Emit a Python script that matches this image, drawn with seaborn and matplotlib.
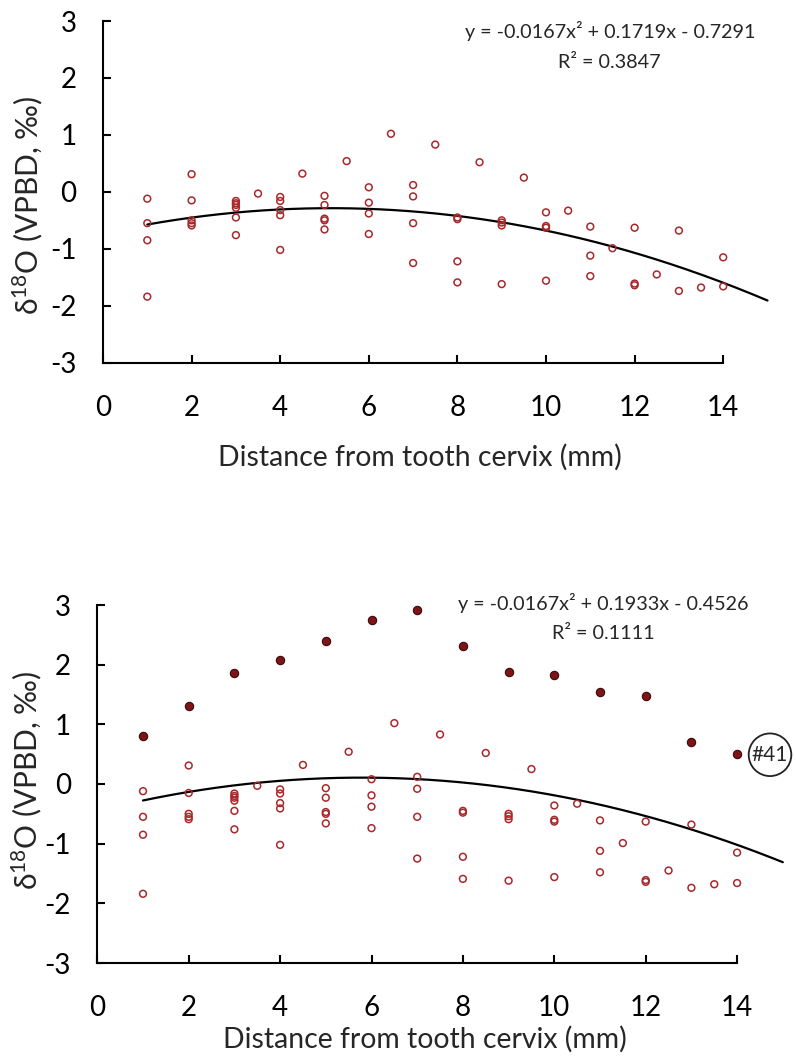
import numpy as np
import pandas as pd
import matplotlib
matplotlib.use("Agg")
import matplotlib.pyplot as plt
import seaborn as sns

# ---------------- data ----------------
dist_open = [1, 1, 1, 1,
             2, 2, 2, 2, 2,
             3, 3, 3, 3, 3, 3,
             3.5,
             4, 4, 4, 4, 4,
             4.5,
             5, 5, 5, 5, 5,
             5.5,
             6, 6, 6, 6,
             6.5,
             7, 7, 7, 7,
             7.5,
             8, 8, 8, 8,
             8.5,
             9, 9, 9, 9,
             9.5,
             10, 10, 10, 10,
             10.5,
             11, 11, 11,
             11.5,
             12, 12, 12,
             12.5,
             13, 13,
             13.5,
             14, 14]
d18o_open = [-0.12, -0.55, -0.85, -1.84,
             0.31, -0.15, -0.50, -0.55, -0.59,
             -0.16, -0.20, -0.23, -0.28, -0.45, -0.76,
             -0.03,
             -0.09, -0.16, -0.32, -0.41, -1.02,
             0.32,
             -0.07, -0.23, -0.47, -0.50, -0.66,
             0.54,
             0.08, -0.19, -0.38, -0.74,
             1.02,
             0.12, -0.08, -0.55, -1.25,
             0.83,
             -0.45, -0.48, -1.22, -1.59,
             0.52,
             -0.50, -0.54, -0.59, -1.62,
             0.25,
             -0.36, -0.60, -0.63, -1.56,
             -0.33,
             -0.61, -1.12, -1.48,
             -0.99,
             -0.63, -1.61, -1.64,
             -1.45,
             -0.68, -1.74,
             -1.68,
             -1.15, -1.66]
dist_41 = [1, 2, 3, 4, 5, 6, 7, 8, 9, 10, 11, 12, 13, 14]
d18o_41 = [0.81, 1.30, 1.86, 2.07, 2.39, 2.75, 2.91, 2.32, 1.87, 1.83, 1.54, 1.48, 0.71, 0.51]
label_41 = "#41"

fit_top = [-0.0167, 0.1719, -0.7291]
r2_top = 0.3847
fit_bottom = [-0.0167, 0.1933, -0.4526]
r2_bottom = 0.1111
fit_range = [1, 15]

x_ticks = [0, 2, 4, 6, 8, 10, 12, 14]
y_ticks = [-3, -2, -1, 0, 1, 2, 3]
x_label = "Distance from tooth cervix (mm)"
y_label = "δ$^{18}$O (VPBD, ‰)"

# ---------------- style ----------------
sns.set_theme(style="ticks")
plt.rcParams["font.family"] = ["Lato", "DejaVu Sans"]
plt.rcParams["mathtext.fontset"] = "custom"
plt.rcParams["mathtext.rm"] = "Lato"
plt.rcParams["mathtext.it"] = "Lato:italic"
plt.rcParams["mathtext.bf"] = "Lato:bold"
plt.rcParams["axes.unicode_minus"] = False

RED = "#A8282B"
DARK_FILL = "#7F1416"

W, H = 796, 1059
fig = plt.figure(figsize=(W / 100, H / 100), dpi=100)
fig.patch.set_facecolor("white")

# top panel: x=0 at 103px, 44.3 px/unit; y 3..-3 at 21..363 px
ax1 = fig.add_axes([103 / W, (H - 362.7) / H, 15.5 * 44.3 / W, 341.7 / H])
# bottom panel: x=0 at 97.3px, 45.7 px/unit; y 3..-3 at 605..963 px
ax2 = fig.add_axes([97.3 / W, (H - 963) / H, 15.5 * 45.7 / W, 358 / H])


def fmt_eq(c):
    a, b, k = c
    sign = "-" if k < 0 else "+"
    return f"y = {a:.4f}x² + {b:.4f}x {sign} {abs(k):.4f}"


def panel(ax, fit, r2, eq_x, eq_y1, eq_y2, xl_frac, xl_y, yl_x, yl_y):
    df_open = pd.DataFrame({"dist": dist_open, "d18o": d18o_open})
    sns.scatterplot(data=df_open, x="dist", y="d18o", ax=ax, marker="o",
                    s=24, facecolors="none", edgecolor=RED, linewidth=1.1,
                    zorder=3, legend=False)
    xs = np.linspace(fit_range[0], fit_range[1], 300)
    df_fit = pd.DataFrame({"x": xs, "y": np.polyval(fit, xs)})
    sns.lineplot(data=df_fit, x="x", y="y", ax=ax, color="black",
                 linewidth=1.6, zorder=2, legend=False)
    ax.set_xlim(0, 15.5)
    ax.set_ylim(-3, 3)
    ax.set_xticks(x_ticks)
    ax.set_yticks(y_ticks)
    ax.set_xticklabels([str(t) for t in x_ticks])
    ax.set_yticklabels([str(t) for t in y_ticks])
    for s in ["top", "right"]:
        ax.spines[s].set_visible(False)
    for s in ["left", "bottom"]:
        ax.spines[s].set_linewidth(1.5)
        ax.spines[s].set_color("black")
    ax.spines["bottom"].set_bounds(0, 14)
    ax.tick_params(axis="both", direction="in", length=6, width=1.5,
                   colors="black", labelsize=20)
    ax.tick_params(axis="x", pad=23)
    ax.tick_params(axis="y", pad=19)
    ax.set_facecolor("none")
    ax.set_xlabel(x_label, fontsize=20.4)
    ax.set_ylabel(y_label, fontsize=21.5)
    ax.xaxis.set_label_coords(xl_frac, xl_y)
    ax.yaxis.set_label_coords(yl_x, yl_y)
    ax.yaxis.label.set_va("center")
    ax.text(eq_x, eq_y1, fmt_eq(fit), ha="center", va="baseline", fontsize=14.2)
    ax.text(eq_x, eq_y2, f"R² = {r2:.4f}", ha="center", va="baseline", fontsize=14.2)


panel(ax1, fit_top, r2_top, 11.44, 2.71, 2.18,
      (420 - 103) / (15.5 * 44.3), -(444 - 362.7) / 341.7,
      (28 - 103) / (15.5 * 44.3), 0.46)
panel(ax2, fit_bottom, r2_bottom, 11.07, 2.92, 2.43,
      (425 - 97.3) / (15.5 * 45.7), -(1026 - 963) / 358,
      (27 - 97.3) / (15.5 * 45.7), 0.51)

df41 = pd.DataFrame({"dist": dist_41, "d18o": d18o_41})
sns.scatterplot(data=df41, x="dist", y="d18o", ax=ax2, marker="o", s=36,
                color=DARK_FILL, edgecolor="#3a0a0a", linewidth=0.8,
                zorder=4, legend=False)
ax2.text(14.72, d18o_41[-1] - 0.02, label_41, ha="center", va="center",
         fontsize=15, clip_on=False, zorder=5,
         bbox=dict(boxstyle="circle,pad=0.15", fc="white", ec="#222222", lw=1.3))

fig.savefig("out.png", dpi=100, facecolor="white")
